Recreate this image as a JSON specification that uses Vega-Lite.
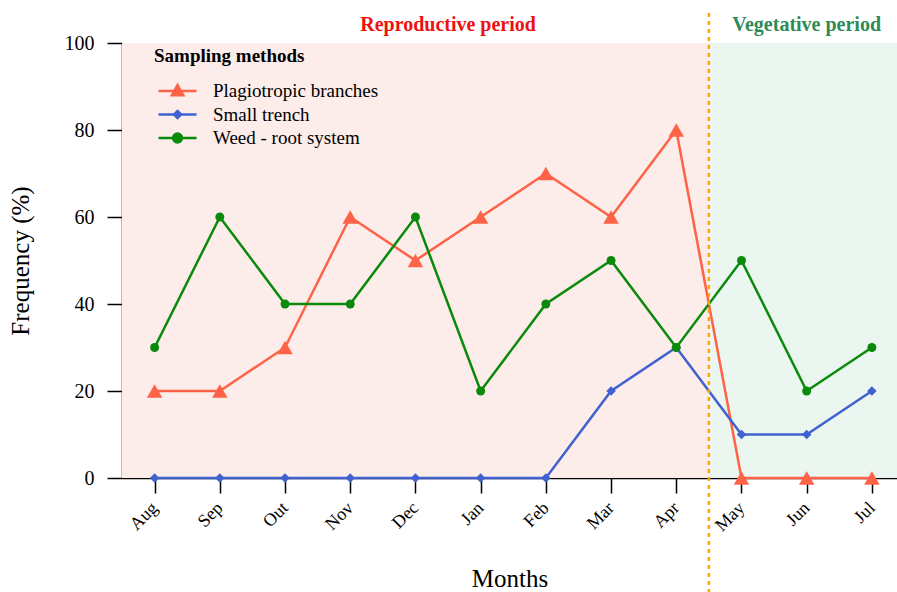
{
  "$schema": "https://vega.github.io/schema/vega-lite/v6.json",
  "autosize": "none",
  "width": 775,
  "height": 435,
  "padding": {"left": 122, "top": 43, "right": 0, "bottom": 114},
  "background": "white",
  "data": {"values": [{}]},
  "config": {
    "view": {"stroke": null},
    "font": "Liberation Serif",
    "axis": {
      "domainColor": "black", "domainWidth": 1.5, "tickColor": "black", "tickWidth": 1.5,
      "tickSize": 15, "grid": false, "labelFont": "Liberation Serif", "labelColor": "black",
      "titleFont": "Liberation Serif", "titleColor": "black", "titleFontWeight": "normal"
    },
    "legend": {
      "orient": "none", "legendX": 32, "legendY": 4, "direction": "vertical",
      "titleFont": "Liberation Serif", "titleFontSize": 19, "titleFontWeight": "bold", "titleColor": "black", "titlePadding": 14,
      "labelFont": "Liberation Serif", "labelFontSize": 19, "labelColor": "black", "labelOffset": 37, "labelLimit": 400,
      "symbolSize": 361, "symbolStrokeWidth": 2.5, "rowPadding": 2.5
    }
  },
  "datasets": {
    "series": [
      {"month": "Aug", "idx": 0, "method": "Plagiotropic branches", "freq": 20},
      {"month": "Sep", "idx": 1, "method": "Plagiotropic branches", "freq": 20},
      {"month": "Out", "idx": 2, "method": "Plagiotropic branches", "freq": 30},
      {"month": "Nov", "idx": 3, "method": "Plagiotropic branches", "freq": 60},
      {"month": "Dec", "idx": 4, "method": "Plagiotropic branches", "freq": 50},
      {"month": "Jan", "idx": 5, "method": "Plagiotropic branches", "freq": 60},
      {"month": "Feb", "idx": 6, "method": "Plagiotropic branches", "freq": 70},
      {"month": "Mar", "idx": 7, "method": "Plagiotropic branches", "freq": 60},
      {"month": "Apr", "idx": 8, "method": "Plagiotropic branches", "freq": 80},
      {"month": "May", "idx": 9, "method": "Plagiotropic branches", "freq": 0},
      {"month": "Jun", "idx": 10, "method": "Plagiotropic branches", "freq": 0},
      {"month": "Jul", "idx": 11, "method": "Plagiotropic branches", "freq": 0},
      {"month": "Aug", "idx": 0, "method": "Small trench", "freq": 0},
      {"month": "Sep", "idx": 1, "method": "Small trench", "freq": 0},
      {"month": "Out", "idx": 2, "method": "Small trench", "freq": 0},
      {"month": "Nov", "idx": 3, "method": "Small trench", "freq": 0},
      {"month": "Dec", "idx": 4, "method": "Small trench", "freq": 0},
      {"month": "Jan", "idx": 5, "method": "Small trench", "freq": 0},
      {"month": "Feb", "idx": 6, "method": "Small trench", "freq": 0},
      {"month": "Mar", "idx": 7, "method": "Small trench", "freq": 20},
      {"month": "Apr", "idx": 8, "method": "Small trench", "freq": 30},
      {"month": "May", "idx": 9, "method": "Small trench", "freq": 10},
      {"month": "Jun", "idx": 10, "method": "Small trench", "freq": 10},
      {"month": "Jul", "idx": 11, "method": "Small trench", "freq": 20},
      {"month": "Aug", "idx": 0, "method": "Weed - root system", "freq": 30},
      {"month": "Sep", "idx": 1, "method": "Weed - root system", "freq": 60},
      {"month": "Out", "idx": 2, "method": "Weed - root system", "freq": 40},
      {"month": "Nov", "idx": 3, "method": "Weed - root system", "freq": 40},
      {"month": "Dec", "idx": 4, "method": "Weed - root system", "freq": 60},
      {"month": "Jan", "idx": 5, "method": "Weed - root system", "freq": 20},
      {"month": "Feb", "idx": 6, "method": "Weed - root system", "freq": 40},
      {"month": "Mar", "idx": 7, "method": "Weed - root system", "freq": 50},
      {"month": "Apr", "idx": 8, "method": "Weed - root system", "freq": 30},
      {"month": "May", "idx": 9, "method": "Weed - root system", "freq": 50},
      {"month": "Jun", "idx": 10, "method": "Weed - root system", "freq": 20},
      {"month": "Jul", "idx": 11, "method": "Weed - root system", "freq": 30}
    ]
  },
  "layer": [
    {
      "mark": {"type": "rect", "color": "#FCECEA"},
      "encoding": {
        "x": {"datum": -0.5, "type": "quantitative", "scale": {"domain": [-0.5, 11.385], "nice": false, "zero": false},
          "axis": {"values": [0,1,2,3,4,5,6,7,8,9,10,11], "labelExpr": "['Aug','Sep','Out','Nov','Dec','Jan','Feb','Mar','Apr','May','Jun','Jul'][datum.value]",
            "labelAngle": -45, "labelAlign": "right", "labelBaseline": "middle", "labelFontSize": 18, "labelPadding": 12,
            "title": "Months", "titleFontSize": 25, "titlePadding": 32}},
        "x2": {"datum": 8.5},
        "y": {"datum": 0, "type": "quantitative", "scale": {"domain": [0, 100], "nice": false},
          "axis": {"values": [0, 20, 40, 60, 80, 100], "labelFontSize": 20, "labelPadding": 13,
            "title": "Frequency (%)", "titleFontSize": 25, "titlePadding": 31}},
        "y2": {"datum": 100}
      }
    },
    {
      "mark": {"type": "rect", "color": "#EAF6EF"},
      "encoding": {
        "x": {"datum": 8.5, "type": "quantitative"},
        "x2": {"datum": 11.385},
        "y": {"datum": 0, "type": "quantitative"},
        "y2": {"datum": 100}
      }
    },
    {
      "data": {"name": "series"},
      "mark": {"type": "line", "strokeWidth": 2.5},
      "encoding": {
        "x": {"field": "idx", "type": "quantitative"},
        "y": {"field": "freq", "type": "quantitative"},
        "color": {"field": "method", "type": "nominal",
          "scale": {"domain": ["Plagiotropic branches", "Small trench", "Weed - root system"], "range": ["#FF6347", "#4062D0", "#0A8A0A"]},
          "legend": {
            "title": "Sampling methods",
            "encode": {"symbols": {"update": {
              "shape": {"signal": "datum.value === 'Plagiotropic branches' ? 'M-0.68,0H3.32M1.32,-0.62L1.92,0.45L0.72,0.45Z' : datum.value === 'Small trench' ? 'M-0.68,0H3.32M1.32,-0.37L1.69,0L1.32,0.37L0.95,0Z' : 'M-0.68,0H3.32M0.85,0A0.47,0.47 0 1,0 1.79,0A0.47,0.47 0 1,0 0.85,0Z'"},
              "fill": {"signal": "scale('color', datum.value)"},
              "stroke": {"signal": "scale('color', datum.value)"},
              "strokeWidth": {"value": 2.5}
            }}}
          }}
      }
    },
    {
      "data": {"name": "series"},
      "transform": [{"filter": "datum.method === 'Plagiotropic branches'"}],
      "mark": {"type": "point", "filled": true, "opacity": 1, "shape": "triangle-up", "size": 240},
      "encoding": {
        "x": {"field": "idx", "type": "quantitative"},
        "y": {"field": "freq", "type": "quantitative"},
        "color": {"field": "method", "type": "nominal"}
      }
    },
    {
      "data": {"name": "series"},
      "transform": [{"filter": "datum.method === 'Small trench'"}],
      "mark": {"type": "point", "filled": true, "opacity": 1, "shape": "diamond", "size": 90},
      "encoding": {
        "x": {"field": "idx", "type": "quantitative"},
        "y": {"field": "freq", "type": "quantitative"},
        "color": {"field": "method", "type": "nominal"}
      }
    },
    {
      "data": {"name": "series"},
      "transform": [{"filter": "datum.method === 'Weed - root system'"}],
      "mark": {"type": "point", "filled": true, "opacity": 1, "shape": "circle", "size": 80},
      "encoding": {
        "x": {"field": "idx", "type": "quantitative"},
        "y": {"field": "freq", "type": "quantitative"},
        "color": {"field": "method", "type": "nominal"}
      }
    },
    {
      "mark": {"type": "rule", "color": "#FFA500", "strokeWidth": 2.5, "strokeDash": [4, 4]},
      "encoding": {
        "x": {"datum": 8.5, "type": "quantitative"},
        "y": {"datum": 106.9, "type": "quantitative"},
        "y2": {"datum": -26.5}
      }
    },
    {
      "mark": {"type": "text", "text": "Reproductive period", "color": "#EE1111", "fontSize": 20, "fontWeight": "bold", "font": "Liberation Serif", "baseline": "middle", "align": "center"},
      "encoding": {
        "x": {"datum": 4.5, "type": "quantitative"},
        "y": {"datum": 104.2, "type": "quantitative"}
      }
    },
    {
      "mark": {"type": "text", "text": "Vegetative period", "color": "#2E8B57", "fontSize": 20, "fontWeight": "bold", "font": "Liberation Serif", "baseline": "middle", "align": "center"},
      "encoding": {
        "x": {"datum": 10, "type": "quantitative"},
        "y": {"datum": 104.2, "type": "quantitative"}
      }
    }
  ]
}
